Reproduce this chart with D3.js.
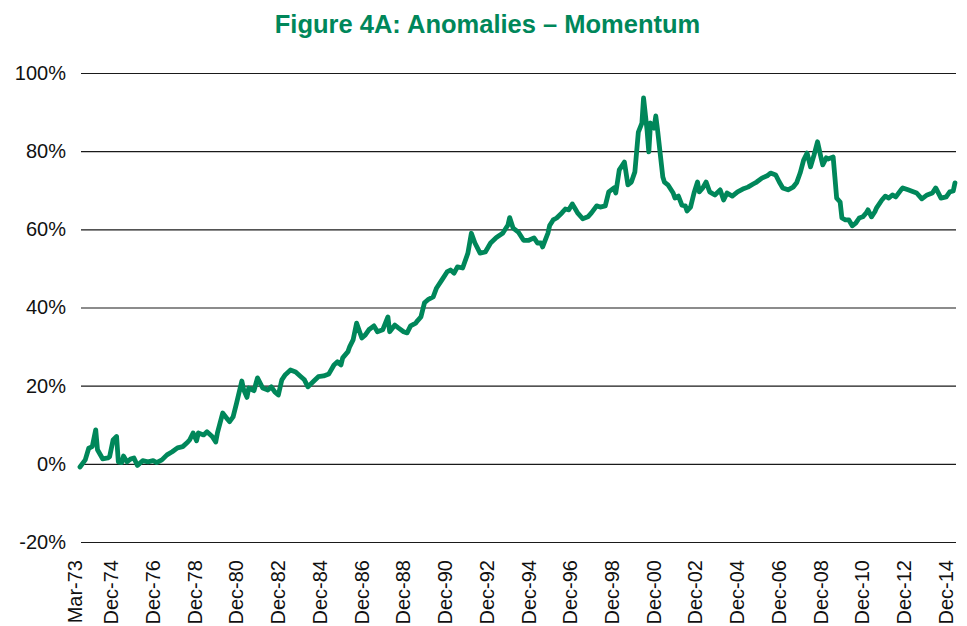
<!DOCTYPE html>
<html>
<head>
<meta charset="utf-8">
<script src="https://cdn.jsdelivr.net/npm/d3@7"></script>
<style>
  html, body { margin: 0; padding: 0; background: #ffffff; }
  svg { display: block; }
</style>
</head>
<body>
<svg id="chart" width="967" height="626"></svg>
<script>
// ---------------- DATA ----------------
const chartTitle = "Figure 4A: Anomalies \u2013 Momentum";
const startMonth = "1973-03";
// months elapsed since Mar-73 for each reading
const monthsSinceStart = [
  0,3,5,7,9,10,13,16,17,19,21,22,24,25,27,29,31,33,36,39,42,44,47,50,53,56,59,62,63,65,67,68,71,73,76,78,79,82,85,86,88,90,93,
  94,96,97,100,102,105,108,110,112,114,116,118,121,124,127,129,131,134,137,140,143,146,148,150,151,154,155,157,159,162,164,166,169,171,174,177,178,181,183,186,188,
  190,193,194,196,198,200,203,205,208,211,213,215,217,220,223,225,227,230,233,236,239,240,243,246,247,249,252,255,258,261,263,265,266,269,270,272,
  274,277,279,281,283,285,286,289,292,294,297,299,302,304,307,308,310,312,313,315,317,319,321,323,324,326,327,328,330,331,332,335,336,338,341,342,344,346,348,349,351,353,355,
  356,358,360,362,365,368,370,372,375,378,381,384,387,389,392,395,397,400,402,404,407,410,412,414,416,418,420,422,424,426,427,429,430,433,434,435,437,438,440,442,444,446,448,
  450,452,453,455,457,458,461,463,465,467,469,472,473,476,479,481,484,487,490,492,495,498,500,502,503
];
// cumulative return, %
const momentumValues = [
  -0.8,1.0,4.0,4.4,8.7,3.6,1.3,1.5,1.8,6.1,7.0,0.5,0.3,2.0,0.5,1.2,1.5,-0.4,0.8,0.5,0.8,0.3,1.0,2.3,3.1,4.1,4.4,5.6,6.1,7.9,5.9,7.9,7.4,8.2,7.0,5.6,7.9,13.0,11.3,10.8,12.0,15.6,21.2,
  19.0,17.0,19.4,18.7,22.0,19.4,18.9,19.7,18.4,17.6,21.5,22.8,24.0,23.5,22.3,21.5,19.7,21.0,22.3,22.5,23.0,25.3,26.1,25.3,27.1,28.7,30.0,31.7,36.0,32.2,33.0,34.3,35.3,33.8,34.3,37.6,33.8,35.5,34.8,33.8,33.5,
  35.3,36.0,36.6,37.6,41.2,42.0,42.7,45.0,47.0,49.1,49.6,48.8,50.4,50.1,53.9,59.0,56.5,53.9,54.2,56.5,57.8,58.1,59.0,61.1,63.0,60.3,59.3,57.2,57.2,57.8,56.5,56.5,55.5,59.0,61.0,62.4,
  62.9,64.2,65.2,65.0,66.5,65.0,64.2,62.7,63.2,64.2,66.0,65.7,66.0,69.6,70.6,69.3,75.2,76.5,77.2,71.4,72.1,74.7,84.9,87.2,93.6,85.4,79.8,87.2,85.9,89.0,85.4,73.4,72.1,71.4,69.3,68.0,68.5,66.2,66.0,64.7,65.7,69.3,72.1,
  69.6,70.6,72.1,69.6,68.8,70.1,67.5,69.3,68.5,69.6,70.3,70.8,71.6,72.1,73.1,73.7,74.4,73.9,72.1,70.6,70.1,70.8,71.9,74.4,77.7,79.5,76.0,79.0,82.4,78.3,76.5,78.3,78.0,78.5,73.4,68.0,67.0,62.9,62.4,62.4,60.9,61.6,62.9,
  63.2,64.2,65.0,63.2,64.5,65.5,67.5,68.5,68.0,68.8,68.3,70.1,70.6,70.1,69.6,69.3,67.8,68.8,69.3,70.6,68.0,68.3,69.6,69.8,71.9
];
const xTickLabels = ["Mar-73","Dec-74","Dec-76","Dec-78","Dec-80","Dec-82","Dec-84","Dec-86","Dec-88","Dec-90","Dec-92",
  "Dec-94","Dec-96","Dec-98","Dec-00","Dec-02","Dec-04","Dec-06","Dec-08","Dec-10","Dec-12","Dec-14"];
const yTickValues = [-20, 0, 20, 40, 60, 80, 100];
const yDomain = [-20, 100];
const xEnd = "2015-02";

// ---------------- DRAW ----------------
const svg = d3.select("#chart");
const W = 967, H = 626;
const margin = { left: 81, right: 11, top: 73, bottom: 84 };

const parseYM = d3.timeParse("%Y-%m");
const parseTick = d3.timeParse("%b-%y");
const start = parseYM(startMonth);
const data = monthsSinceStart.map((m, i) => ({ date: d3.timeMonth.offset(start, m), value: momentumValues[i] }));

const x = d3.scaleTime()
  .domain([start, parseYM(xEnd)])
  .range([margin.left - 1, W - margin.right - 1]);
const y = d3.scaleLinear()
  .domain(yDomain)
  .range([H - margin.bottom, margin.top]);

const fontFamily = "'Liberation Sans', Arial, Helvetica, sans-serif";
const green = "#00875A";

// title
svg.append("text")
  .attr("x", 487.5)
  .attr("y", 33)
  .attr("text-anchor", "middle")
  .attr("font-family", fontFamily)
  .attr("font-weight", "bold")
  .attr("font-size", 25.5)
  .attr("fill", green)
  .text(chartTitle);

// y axis: gridlines + labels
const yAxis = d3.axisLeft(y)
  .tickValues(yTickValues)
  .tickSize(-(W - margin.left - margin.right))
  .tickPadding(15)
  .tickFormat(d => d + "%");
const gy = svg.append("g")
  .attr("transform", `translate(${margin.left},0)`)
  .call(yAxis);
gy.select(".domain").remove();
gy.selectAll(".tick line").attr("stroke", "#1a1a1a").attr("stroke-width", 1.2);
gy.selectAll(".tick text")
  .attr("font-family", fontFamily)
  .attr("font-size", 20)
  .attr("fill", "#111");

// x axis labels (rotated)
const xTickDates = xTickLabels.map(s => parseTick(s));
const xAxis = d3.axisBottom(x)
  .tickValues(xTickDates)
  .tickSize(0)
  .tickFormat(d3.timeFormat("%b-%y"));
const gx = svg.append("g")
  .attr("transform", `translate(-6,${y(yDomain[0]) + 18})`)
  .call(xAxis);
gx.select(".domain").remove();
gx.selectAll(".tick text")
  .attr("font-family", fontFamily)
  .attr("font-size", 20)
  .attr("fill", "#111")
  .attr("text-anchor", "end")
  .attr("transform", "rotate(-90)")
  .attr("x", 0)
  .attr("y", 0)
  .attr("dy", "0.35em");

// line
const line = d3.line()
  .x(d => x(d.date))
  .y(d => y(d.value));
svg.append("path")
  .datum(data)
  .attr("fill", "none")
  .attr("stroke", green)
  .attr("stroke-width", 4.8)
  .attr("stroke-linejoin", "round")
  .attr("stroke-linecap", "round")
  .attr("d", line);
</script>
</body>
</html>
